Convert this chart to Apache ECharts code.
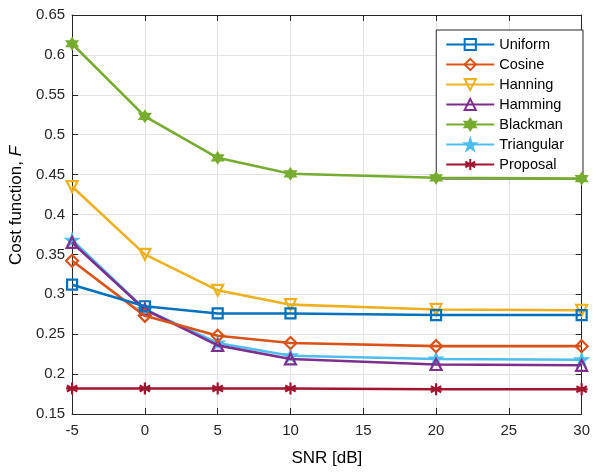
<!DOCTYPE html>
<html><head><meta charset="utf-8">
<script src="https://cdn.jsdelivr.net/npm/echarts@6/dist/echarts.min.js"></script>
<style>html,body{margin:0;padding:0;background:#fff}#c{width:593px;height:472px}</style>
</head><body><div id="c"></div>
<script>
const snr = [-5, 0, 5, 10, 20, 30];
const uniform    = [0.312, 0.285, 0.276, 0.276, 0.274, 0.274];
const cosine     = [0.342, 0.273, 0.248, 0.239, 0.235, 0.235];
const hanning    = [0.435, 0.350, 0.305, 0.287, 0.281, 0.280];
const hamming    = [0.365, 0.281, 0.236, 0.219, 0.212, 0.211];
const blackman   = [0.614, 0.523, 0.471, 0.451, 0.446, 0.445];
const triangular = [0.368, 0.281, 0.239, 0.223, 0.219, 0.218];
const proposal   = [0.182, 0.182, 0.182, 0.182, 0.181, 0.181];
const names = ['Uniform','Cosine','Hanning','Hamming','Blackman','Triangular','Proposal'];
const values = [uniform, cosine, hanning, hamming, blackman, triangular, proposal];
const colors = ['#0072BD','#D95319','#EDB120','#7E2F8E','#77AC30','#4DBEEE','#A2142F'];
const tri = 'path://M0,0L2,0L1,1.8Z';
const triUp = 'path://M1,0L2,1.8L0,1.8Z';
const hexagram = 'path://M0,-1L0.29,-0.5L0.87,-0.5L0.58,0L0.87,0.5L0.29,0.5L0,1L-0.29,0.5L-0.87,0.5L-0.58,0L-0.87,-0.5L-0.29,-0.5Z';
const pentagram = 'path://M0,-1L0.225,-0.31L0.95,-0.31L0.36,0.12L0.59,0.81L0,0.38L-0.59,0.81L-0.36,0.12L-0.95,-0.31L-0.225,-0.31Z';
const aster = 'path://M0,-1L0,1M-0.87,-0.5L0.87,0.5M-0.87,0.5L0.87,-0.5M-1,0L1,0';
const symbols = ['rect','diamond',tri,triUp,hexagram,pentagram,aster];
const sizes = [10,12,11,11,10,11,12];
const filled = [false,false,false,false,true,true,false];

const series = names.map((n,i)=>({
  name:n, type:'line',
  data: snr.map((x,j)=>[x, values[i][j]]),
  symbol: symbols[i], symbolSize: sizes[i], showAllSymbol:true,
  lineStyle:{color:colors[i], width:2.6},
  itemStyle:{color: filled[i]?colors[i]:'rgba(255,255,255,0)', borderColor:colors[i], borderWidth:2.2},
  emphasis:{disabled:true},
  z: 10-i
}));

const chart = echarts.init(document.getElementById('c'), null, {renderer:'canvas'});
const font = 'Liberation Sans, Arial, Helvetica, sans-serif';
chart.setOption({
  animation:false,
  textStyle:{fontFamily:font},
  grid:{left:72, right:7, top:15, bottom:53},
  legend:{
    orient:'vertical', right:10, top:30,
    data: names.map((n,i)=>({name:n})),
    itemWidth:48, itemHeight:14, itemGap:5,
    backgroundColor:'#fff', borderColor:'#262626', borderWidth:1, borderRadius:0,
    padding:[7,19,7,9],
    textStyle:{fontSize:14.5, color:'#000', fontFamily:font}
  },
  xAxis:[{
    type:'value', min:-5, max:30, interval:5,
    name:'SNR [dB]', nameLocation:'middle', nameGap:36,
    nameTextStyle:{fontSize:17, color:'#000', fontFamily:font},
    axisLine:{onZero:false, lineStyle:{color:'#262626'}},
    axisTick:{inside:true, length:6, lineStyle:{color:'#262626'}},
    axisLabel:{fontSize:15, color:'#262626', margin:9, fontFamily:font},
    splitLine:{show:true, lineStyle:{color:'#e3e3e3', width:1}}
  },{
    type:'value', position:'top', min:-5, max:30, interval:5,
    axisLine:{show:true, onZero:false, lineStyle:{color:'#262626'}},
    axisTick:{inside:true, length:6, lineStyle:{color:'#262626'}},
    axisLabel:{show:false}, splitLine:{show:false}
  }],
  yAxis:[{
    type:'value', min:0.15, max:0.65, interval:0.05,
    name:'{a|Cost function, }{b|F}', nameLocation:'middle', nameGap:42,
    nameTextStyle:{padding:[0,0,0,18], rich:{a:{fontSize:17, color:'#000', fontFamily:font}, b:{fontSize:17, color:'#000', fontStyle:'italic', fontFamily:font}}},
    axisLine:{show:true, onZero:false, lineStyle:{color:'#262626'}},
    axisTick:{show:true, inside:true, length:6, lineStyle:{color:'#262626'}},
    axisLabel:{fontSize:15, color:'#262626', margin:7, fontFamily:font, formatter:v=>String(+v.toFixed(2))},
    splitLine:{show:true, lineStyle:{color:'#e3e3e3', width:1}}
  },{
    type:'value', position:'right', min:0.15, max:0.65, interval:0.05,
    axisLine:{show:true, onZero:false, lineStyle:{color:'#262626'}},
    axisTick:{show:true, inside:true, length:6, lineStyle:{color:'#262626'}},
    axisLabel:{show:false}, splitLine:{show:false}
  }],
  series: series
});
</script></body></html>
